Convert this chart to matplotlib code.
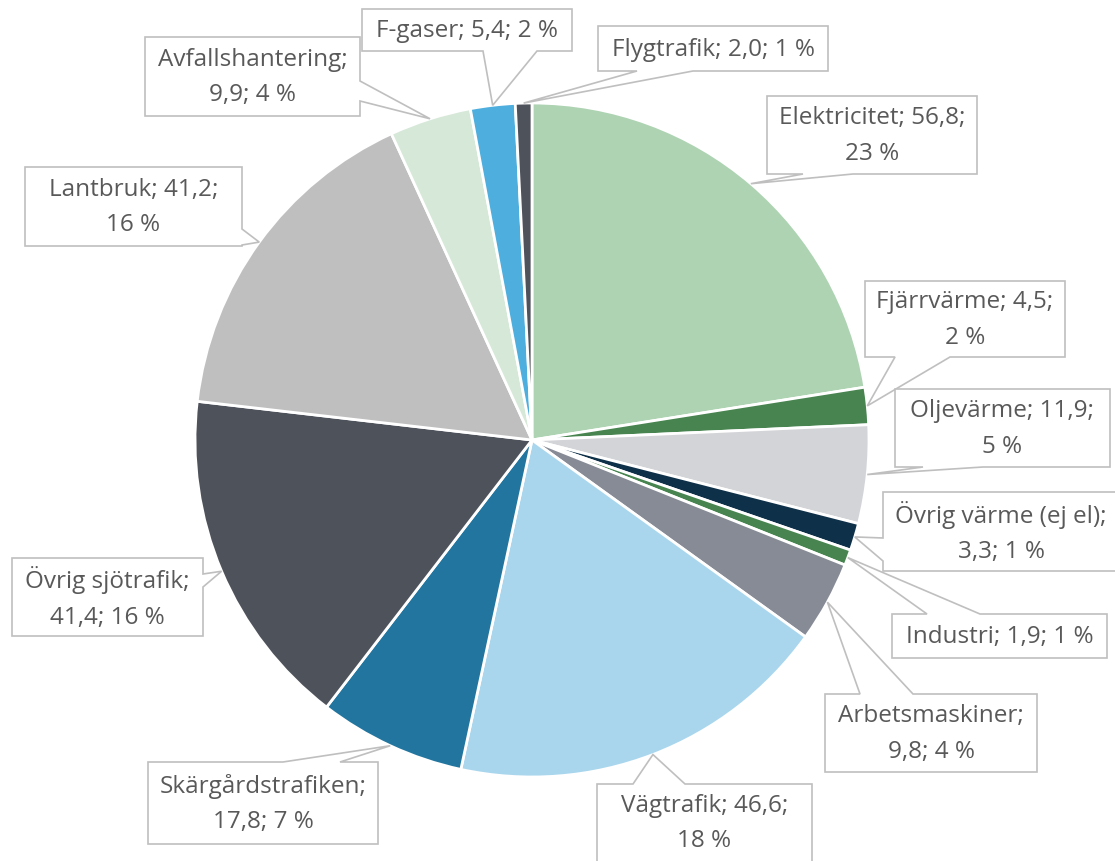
import matplotlib
matplotlib.use("Agg")
import matplotlib.pyplot as plt
from matplotlib.patches import Polygon
import numpy as np

plt.rcParams['font.family'] = ['Open Sans', 'DejaVu Sans']

# ---- data ----
categories = ["Elektricitet", "Fjärrvärme", "Oljevärme", "Övrig värme (ej el)", "Industri",
              "Arbetsmaskiner", "Vägtrafik", "Skärgårdstrafiken", "Övrig sjötrafik",
              "Lantbruk", "Avfallshantering", "F-gaser", "Flygtrafik"]
values = [56.8, 4.5, 11.9, 3.3, 1.9, 9.8, 46.6, 17.8, 41.4, 41.2, 9.9, 5.4, 2.0]
percents = [23, 2, 5, 1, 1, 4, 18, 7, 16, 16, 4, 2, 1]
value_labels = ["56,8", "4,5", "11,9", "3,3", "1,9", "9,8", "46,6", "17,8", "41,4",
                "41,2", "9,9", "5,4", "2,0"]
# where each label text breaks into two lines (0 = one line, 1 = after name, 2 = after value)
line_breaks = [2, 2, 2, 1, 0, 1, 2, 1, 1, 2, 1, 0, 0]

colors = ["#aed3b3", "#47844f", "#d3d4d8", "#0e3048", "#47844f", "#878b95", "#a9d6ed",
          "#21759f", "#4e525b", "#bfbfbf", "#d6e8d8", "#4eaede", "#4e525b"]

# ---- layout (pixel coordinates, y measured from top) ----
W, H = 1115, 862
CX, CY, R = 532, 441, 337
# label boxes: x0, y0, x1, y1
boxes = [
    (767, 97, 977, 175),
    (865, 282, 1065, 358),
    (895, 390, 1110, 468),
    (883, 493, 1125, 572),
    (892, 615, 1107, 659),
    (825, 695, 1037, 773),
    (597, 785, 812, 866),
    (148, 763, 378, 845),
    (12, 559, 203, 637),
    (25, 168, 242, 247),
    (145, 38, 360, 117),
    (362, 10, 572, 52),
    (598, 27, 828, 72),
]
# pointer: side of box, base start, base end
pointers = [
    ("b", 803, 853),
    ("b", 895, 950),
    ("b", 923, 983),
    ("l", 539, 562),
    ("t", 927, 980),
    ("t", 860, 913),
    ("t", 633, 685),
    ("t", 283, 340),
    ("r", 575, 588),
    ("r", 230, 246),
    ("r", 82, 102),
    ("b", 483, 537),
    ("b", 637, 693),
]

fig = plt.figure(figsize=(W / 100, H / 100), dpi=100)
ax = fig.add_axes([0, 0, 1, 1])

wedges, _ = ax.pie(values, colors=colors, startangle=90, counterclock=False,
                   center=(CX, H - CY), radius=R,
                   wedgeprops=dict(edgecolor="white", linewidth=2.0))
ax.set_xlim(0, W)
ax.set_ylim(0, H)
ax.set_aspect("auto")
ax.axis("off")

for i, w in enumerate(wedges):
    mid = np.deg2rad((w.theta1 + w.theta2) / 2)
    axp = CX + R * np.cos(mid)
    ayp = CY - R * np.sin(mid)  # top-down
    x0, y0, x1, y1 = boxes[i]
    side, b1, b2 = pointers[i]
    pts = [(x0, y0)]
    if side == "t":
        pts += [(b1, y0), (axp, ayp), (b2, y0)]
    pts.append((x1, y0))
    if side == "r":
        pts += [(x1, b1), (axp, ayp), (x1, b2)]
    pts.append((x1, y1))
    if side == "b":
        pts += [(b2, y1), (axp, ayp), (b1, y1)]
    pts.append((x0, y1))
    if side == "l":
        pts += [(x0, b2), (axp, ayp), (x0, b1)]
    poly = Polygon([(px, H - py) for px, py in pts], closed=True, facecolor="white",
                   edgecolor="#bfbfbf", linewidth=1.2, zorder=5)
    ax.add_patch(poly)

    name, val, pct = categories[i], value_labels[i], f"{percents[i]} %"
    if line_breaks[i] == 0:
        txt = f"{name}; {val}; {pct}"
    elif line_breaks[i] == 1:
        txt = f"{name};\n{val}; {pct}"
    else:
        txt = f"{name}; {val};\n{pct}"
    tx = (x0 + x1) / 2 if x1 <= W else (x0 + W) / 2 + 2
    ty = (y0 + y1) / 2 if y1 <= H else (y0 + H) / 2
    ax.text(tx, H - ty, txt,
            ha="center", va="center", fontsize=17.5, color="#595959",
            linespacing=1.62, zorder=6)

fig.savefig("out.png", dpi=100)
